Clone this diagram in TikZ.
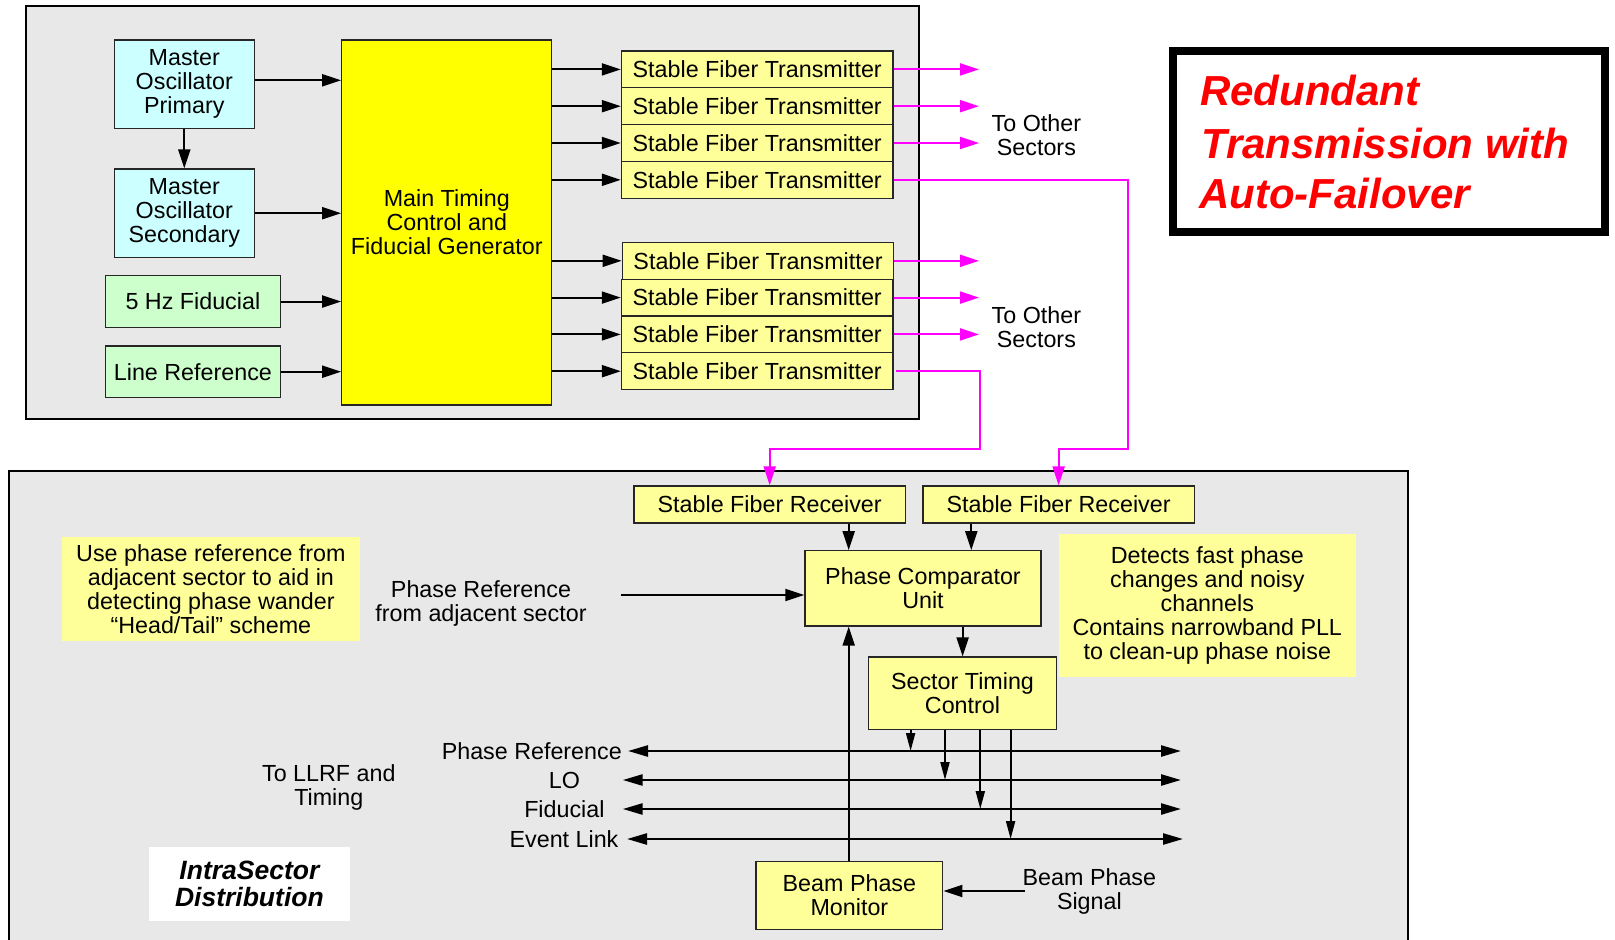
\documentclass[tikz,border=0pt]{standalone}
\usepackage{fontspec}
\setmainfont{Liberation Sans}
\usetikzlibrary{arrows.meta}
\definecolor{bggray}{RGB}{232,232,232}
\definecolor{cyanbox}{RGB}{204,255,255}
\definecolor{greenbox}{RGB}{204,255,204}
\definecolor{mainyel}{RGB}{255,255,0}
\definecolor{lightyel}{RGB}{255,255,153}
\definecolor{mgc}{RGB}{255,0,255}
\definecolor{titlered}{RGB}{255,0,0}
\newcommand\mainfs{\fontsize{23.3}{24}\selectfont}
\begin{document}
\begin{tikzpicture}[x=1pt,y=-1pt,
  box/.style={draw=black!85,line width=1.3pt,font=\mainfs,align=center,inner sep=0pt},
  note/.style={fill=lightyel,font=\mainfs,align=center,inner sep=0pt},
  arr/.style={line width=2pt,-{Triangle[length=19pt,width=12pt]}},
  marr/.style={line width=2pt,draw=mgc,-{Triangle[length=19pt,width=12pt,fill=mgc]}},
  bus/.style={line width=2.5pt,{Triangle[length=20pt,width=11pt]}-{Triangle[length=20pt,width=11pt]}},
  drop/.style={line width=2pt,-{Triangle[length=18pt,width=9pt]}},
  lbl/.style={font=\mainfs,align=center,inner sep=0pt},
  panel/.style={draw=black,line width=2pt,fill=bggray}]
\clip (0,0) rectangle (1615,940);
\fill[white] (0,0) rectangle (1615,940);
% panels
\draw[panel] (26,6) rectangle (918.6,419);
\draw[panel] (9,471) rectangle (1408,960);
% title
\draw[line width=8pt,fill=white] (1173,51) rectangle (1605,232);
\node[font=\fontsize{42}{51.5}\selectfont\bfseries\itshape,text=titlered,anchor=base west,inner sep=0pt] (t1) at (1200,105) {Redundant};
\node[font=\fontsize{42}{51.5}\selectfont\bfseries\itshape,text=titlered,anchor=base west,inner sep=0pt] (t2) at (1201,158) {Transmission with};
\node[font=\fontsize{42}{51.5}\selectfont\bfseries\itshape,text=titlered,anchor=base west,inner sep=0pt] (t3) at (1199,208) {Auto-Failover};
% top nodes
\node[box,fill=cyanbox,minimum width=140pt,minimum height=88.3pt] (mop) at (184.3,84.2) {Master\\Oscillator\\Primary};
\node[box,fill=cyanbox,minimum width=140pt,minimum height=88.3pt] (mos) at (184.3,213.2) {Master\\Oscillator\\Secondary};
\node[box,fill=greenbox,minimum width=175pt,minimum height=51.5pt] (fid) at (192.9,301.5) {5 Hz Fiducial};
\node[box,fill=greenbox,minimum width=175pt,minimum height=51.5pt] (lref) at (192.9,371.7) {Line Reference};
\node[box,fill=mainyel,minimum width=210pt,minimum height=365pt] (main) at (446.8,222.5) {Main Timing\\Control and\\Fiducial Generator};
\foreach \n/\cx/\cy in {1/757.2/69.4,2/757.2/106.2,3/757.2/143.0,4/757.2/179.8,5/758/260.8,6/757.2/297.6,7/757.2/334.4,8/757.2/371.2}{
  \node[box,fill=lightyel,minimum width=271.5pt,minimum height=36.8pt] (tx\n) at (\cx,\cy) {Stable Fiber Transmitter};
}
\node[lbl] (os1) at (1036.4,135) {To Other\\Sectors};
\node[lbl] (os2) at (1036.4,326.7) {To Other\\Sectors};
% top connectors
\draw[arr] (mop.east |- 0,80.3) -- (main.west |- 0,80.3);
\draw[arr] (mop) -- (mos);
\draw[arr] (mos.east) -- (main.west |- mos.east);
\draw[arr] (fid.east) -- (main.west |- fid.east);
\draw[arr] (lref.east) -- (main.west |- lref.east);
\foreach \n in {1,...,8}{
  \draw[arr] (main.east |- tx\n.west) -- (tx\n.west);
}
\foreach \n in {1,2,3,5,6,7}{
  \coordinate (o\n) at (979,0);
  \draw[marr] (tx\n.east) -- (tx\n.east -| o\n);
}
% bottom nodes
\node[box,fill=lightyel,minimum width=271.5pt,minimum height=37pt] (rx1) at (769.7,504.5) {Stable Fiber Receiver};
\node[box,fill=lightyel,minimum width=271.5pt,minimum height=37pt] (rx2) at (1058.6,504.5) {Stable Fiber Receiver};
\node[box,fill=lightyel,minimum width=236pt,minimum height=75.3pt] (pcu) at (923,588.4) {Phase Comparator\\Unit};
\node[box,fill=lightyel,minimum width=188pt,minimum height=72.3pt] (stc) at (962.5,693.2) {Sector Timing\\Control};
\node[box,fill=lightyel,minimum width=186.7pt,minimum height=67.6pt] (bpm) at (849.4,895.5) {Beam Phase\\Monitor};
\node[note,minimum width=297.4pt,minimum height=142.7pt] (nr) at (1207.3,605.4) {Detects fast phase\\changes and noisy\\channels\\Contains narrowband PLL\\to clean-up phase noise};
\node[note,minimum width=297.7pt,minimum height=103.4pt] (nl) at (210.9,589) {Use phase reference from\\adjacent sector to aid in\\detecting phase wander\\``Head/Tail'' scheme};
\node[fill=white,minimum width=200.8pt,minimum height=73.4pt,inner sep=0pt,align=center,font=\fontsize{26.5}{27}\selectfont\bfseries\itshape] (intra) at (249.4,884) {IntraSector\\Distribution};
\node[lbl] (pra) at (481,603) {Phase Reference\\from adjacent sector};
\node[lbl] (llrf) at (328.8,787.5) {To LLRF and\\Timing};
\node[lbl] (bps) at (1089.4,891) {Beam Phase\\Signal};
\node[lbl,anchor=east] (lpr) at (622,751) {Phase Reference};
\node[lbl] (llo) at (564.4,780) {LO};
\node[lbl] (lfid) at (564.4,809) {Fiducial};
\node[lbl,anchor=east] (lev) at (618.6,839) {Event Link};
% magenta cross links
\coordinate (k1) at (1128.4,448.7);
\coordinate (k2) at (979.5,448.7);
\draw[marr] (tx4.east) -| (k1) -| (rx2.north);
\draw[marr] ([xshift=2pt]tx8.east) -| (k2) -| (rx1.north);
% bottom connectors
\coordinate (c1) at (848.7,0);
\coordinate (c2) at (971.3,0);
\coordinate (c3) at (962.6,0);
\draw[arr] (rx1.south -| c1) -- (pcu.north -| c1);
\draw[arr] (rx2.south -| c2) -- (pcu.north -| c2);
\draw[arr] (pcu.south -| c3) -- (stc.north -| c3);
\coordinate (pa) at (621,595);
\draw[arr] (pa) -- (pcu.west |- pa);
\draw[arr] (bpm.north -| c1) -- (pcu.south -| c1);
\coordinate (bs) at (1024.5,891);
\draw[arr] (bs) -- (bpm.east |- bs);
% buses
\coordinate (prL) at (628,751); \coordinate (prR) at (1181,751);
\coordinate (loL) at (622.7,780); \coordinate (loR) at (1181,780);
\coordinate (fiL) at (622.7,809); \coordinate (fiR) at (1181,809);
\coordinate (evL) at (627,839); \coordinate (evR) at (1183,839);
\draw[bus] (prL) -- (prR);
\draw[bus] (loL) -- (loR);
\draw[bus] (fiL) -- (fiR);
\draw[bus] (evL) -- (evR);
\coordinate (d1) at (910.6,0);
\coordinate (d2) at (945,0);
\coordinate (d3) at (980.3,0);
\coordinate (d4) at (1010.6,0);
\draw[drop] (stc.south -| d1) -- (prL -| d1);
\draw[drop] (stc.south -| d2) -- (loL -| d2);
\draw[drop] (stc.south -| d3) -- (fiL -| d3);
\draw[drop] (stc.south -| d4) -- (evL -| d4);
\end{tikzpicture}
\end{document}
